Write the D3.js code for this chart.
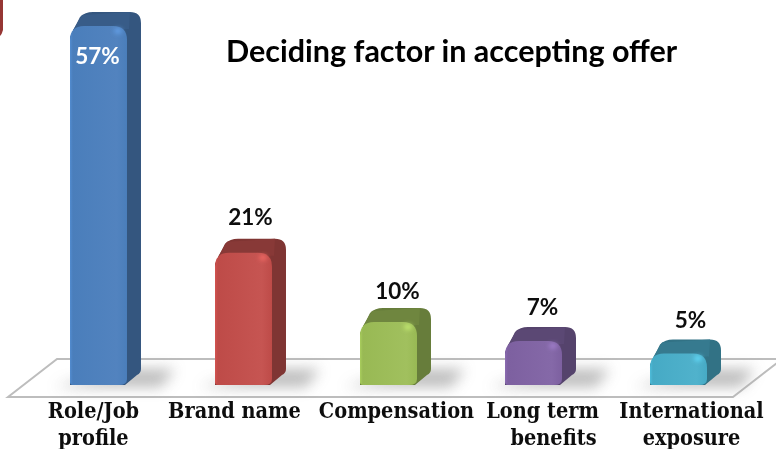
<!DOCTYPE html>
<html lang="en">
<head>
  <title>Deciding factor in accepting offer</title>
  <meta charset="UTF-8">
  <script src="https://cdn.jsdelivr.net/npm/d3@7"></script>
  <style>
  html, body { margin: 0; padding: 0; background: #fff; }
  svg { display: block; }
  .title { font: bold 30.5px Lato, sans-serif; fill: #000; }
  .value { font: bold 22.5px Lato, sans-serif; text-anchor: middle; }
  .cat { font: bold 21.5px "DejaVu Serif Condensed", "DejaVu Serif", serif; fill: #111; text-anchor: middle; }
  </style>
</head>
<body>
<svg id="chart" width="776" height="449"></svg>
<script>
const categories = ['Role/Job profile', 'Brand name', 'Compensation', 'Long term benefits', 'International exposure'];
const values = [57, 21, 10, 7, 5];
const catLines = [['Role/Job', 'profile'], ['Brand name'], ['Compensation'], ['Long term', 'benefits'], ['International', 'exposure']];

// colours per bar: front, front highlight, side/top
const fronts = ['#4a7ebb', '#be4b48', '#98b954', '#7d60a0', '#46aac5'];
const lights = ['#5283bf', '#c65552', '#a1c05e', '#8569a8', '#50b2cc'];
const sides = ['#34567f', '#7f3533', '#677d3b', '#55436c', '#327285'];

// nudges to line up with the picture
const catShift = [[-5, -5], [-9], [8], [9, 20], [13, 13]];
const valueShift = [[-1, 64], [7, -2], [9, 3], [9, 0], [12, 0]];

const depth = 14, r = 11;
const svg = d3.select('#chart');
const defs = svg.append('defs');

const x = d3.scaleBand().domain(categories).range([70, 707]).paddingInner(0.607).paddingOuter(0);
const y = d3.scaleLinear().domain([0, 57]).range([385, 26]);

defs.append('filter').attr('id', 'blur').attr('x', '-50%').attr('width', '200%').attr('y', '-80%').attr('height', '260%')
  .append('feGaussianBlur').attr('stdDeviation', 7);
defs.append('filter').attr('id', 'soft')
  .append('feGaussianBlur').attr('stdDeviation', 0.45);
defs.append('filter').attr('id', 'glow').attr('x', '-100%').attr('width', '300%').attr('y', '-100%').attr('height', '300%')
  .append('feGaussianBlur').attr('stdDeviation', 2);

fronts.forEach((c, i) => {
  const g = defs.append('linearGradient').attr('id', 'front' + i);
  g.append('stop').attr('offset', 0).attr('stop-color', d3.color(c).brighter(0.3));
  g.append('stop').attr('offset', 0.05).attr('stop-color', c);
  g.append('stop').attr('offset', 0.82).attr('stop-color', lights[i]);
  g.append('stop').attr('offset', 1).attr('stop-color', c);
});

// floor
const base = y(0);
const floorFront = base + 12, floorBack = base - 26;
const floor = d3.path();
floor.moveTo(8, floorFront);
floor.lineTo(57, floorBack);
floor.lineTo(782, floorBack);
floor.lineTo(733, floorFront);
floor.closePath();
svg.append('path').attr('d', floor.toString()).attr('fill', '#fff').attr('stroke', '#bdbdbd').attr('stroke-width', 2);

// bar shadows on the floor
svg.append('g').selectAll('path').data(categories).join('path')
  .attr('d', d => {
    const p = d3.path(), l = x(d), w = x.bandwidth();
    p.moveTo(l - 16, base + 2);
    p.lineTo(l + w + 34, base + 2);
    p.lineTo(l + w + 48, base - 16);
    p.lineTo(l + w, base - 16);
    p.closePath();
    return p.toString();
  })
  .attr('fill', '#a0a0a0').attr('opacity', 0.7).attr('filter', 'url(#blur)');

// bars
const bars = svg.append('g').selectAll('g').data(categories).join('g');

bars.append('path')
  .attr('d', (d, i) => {
    const l = x(d), w = x.bandwidth(), t = y(values[i]), p = d3.path();
    p.moveTo(l, t + r);
    p.lineTo(l + depth - 4, t - depth + 5);
    p.quadraticCurveTo(l + depth + 1, t - depth, l + depth + 9, t - depth);
    p.lineTo(l + w + depth - r, t - depth);
    p.quadraticCurveTo(l + w + depth, t - depth, l + w + depth, t - depth + r);
    p.lineTo(l + w + depth, base - depth - 2);
    p.quadraticCurveTo(l + w + depth, base - depth + 2, l + w + depth - 4, base - depth + 4);
    p.lineTo(l + w - 2, base);
    p.lineTo(l, base);
    p.closePath();
    return p.toString();
  })
  .attr('fill', (d, i) => sides[i]);

// lighter top face
bars.append('path')
  .attr('d', (d, i) => {
    const l = x(d), w = x.bandwidth(), t = y(values[i]), p = d3.path();
    p.moveTo(l + 3, t + 4);
    p.lineTo(l + depth - 2, t - depth + 3);
    p.lineTo(l + w + depth - r, t - depth);
    p.lineTo(l + w + 2, t + 3);
    p.closePath();
    return p.toString();
  })
  .attr('fill', (d, i) => d3.color(sides[i]).brighter(0.2));

// front face: small bottom corners, round top
bars.append('path')
  .attr('d', (d, i) => {
    const l = x(d), w = x.bandwidth(), t = y(values[i]), p = d3.path();
    p.moveTo(l, base - 3);
    p.lineTo(l, t + r + 3);
    p.quadraticCurveTo(l, t, l + r + 3, t);
    p.lineTo(l + w - r - 3, t);
    p.quadraticCurveTo(l + w, t, l + w, t + r + 3);
    p.lineTo(l + w, base - 6);
    p.quadraticCurveTo(l + w, base, l + w - 8, base);
    p.lineTo(l + 3, base);
    p.quadraticCurveTo(l, base, l, base - 3);
    p.closePath();
    return p.toString();
  })
  .attr('fill', (d, i) => `url(#front${i})`);

// small shine on the top right corner
bars.append('ellipse')
  .attr('cx', d => x(d) + x.bandwidth() - 9)
  .attr('cy', (d, i) => y(values[i]) + 5)
  .attr('rx', 4).attr('ry', 3)
  .attr('fill', (d, i) => d3.color(lights[i]).brighter(0.5))
  .attr('filter', 'url(#glow)');

// value labels
svg.append('g').selectAll('text').data(values).join('text')
  .attr('class', 'value')
  .attr('x', (d, i) => x(categories[i]) + x.bandwidth() / 2 + valueShift[i][0])
  .attr('y', (d, i) => y(d) - 26 + valueShift[i][1])
  .attr('fill', (d, i) => i === 0 ? '#fff' : '#111')
  .attr('filter', 'url(#soft)')
  .text(d => d + '%');

// category labels
const cats = svg.append('g').selectAll('text').data(catLines).join('text')
  .attr('class', 'cat')
  .attr('filter', 'url(#soft)');
cats.selectAll('tspan').data((d, i) => d.map((s, j) => ({ s, i, j }))).join('tspan')
  .attr('x', d => x(categories[d.i]) + x.bandwidth() / 2 + catShift[d.i][d.j])
  .attr('y', d => 418 + d.j * 27)
  .text(d => d.s);

svg.append('text').attr('class', 'title').attr('x', 226).attr('y', 62).attr('filter', 'url(#soft)')
  .text('Deciding factor in accepting offer');

// red corner at the top left
const corner = d3.path();
corner.moveTo(0, 0);
corner.lineTo(3, 0);
corner.lineTo(3, 30);
corner.quadraticCurveTo(2, 34, 0, 36);
corner.closePath();
svg.append('path').attr('d', corner.toString()).attr('fill', '#963634');
</script>
</body>
</html>
